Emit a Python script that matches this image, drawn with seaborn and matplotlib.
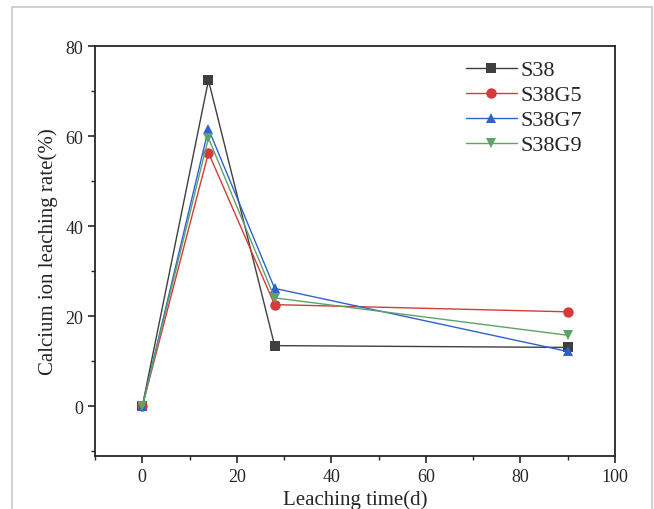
import numpy as np
import pandas as pd
import matplotlib
matplotlib.use('Agg')
import matplotlib.pyplot as plt
import seaborn as sns
from matplotlib.ticker import MultipleLocator
from matplotlib.patches import Rectangle

# ====================== DATA ======================
days = [0, 14, 28, 90]
samples = ['S38', 'S38G5', 'S38G7', 'S38G9']
s38 = [0, 72.4, 13.5, 13.1]
s38g5 = [0, 56.3, 22.6, 21.0]
s38g7 = [0, 61.6, 26.2, 12.2]
s38g9 = [0, 59.6, 24.1, 15.8]

df = pd.DataFrame({
    'time': days * 4,
    'rate': s38 + s38g5 + s38g7 + s38g9,
    'sample': [s for s in samples for _ in days],
})

colors = {'S38': '#3f3f3f', 'S38G5': '#d63a3a', 'S38G7': '#2f62d0', 'S38G9': '#5ea266'}
markers = {'S38': 's', 'S38G5': 'o', 'S38G7': '^', 'S38G9': 'v'}

# ====================== STYLE ======================
sns.set_style('ticks')
plt.rcParams['font.family'] = ['Liberation Serif', 'DejaVu Serif']
plt.rcParams['axes.linewidth'] = 1.3

fig = plt.figure(figsize=(6.54, 5.10), dpi=100)
ax = fig.add_axes([95 / 654, 1 - 457 / 510, 520 / 654, 410 / 510])

# light frame around the whole picture
fig.patches.append(Rectangle((12 / 654, -0.1), 640 / 654, 1.1 - 8 / 510,
                             transform=fig.transFigure, fill=False,
                             edgecolor='#c8c8c8', linewidth=1.2))

sns.lineplot(data=df, x='time', y='rate', hue='sample', style='sample',
             palette=colors, markers=markers, dashes=False, linewidth=1.0,
             markersize=7.5, markeredgewidth=0, ax=ax, legend=False)

ax.set_xlim(-10, 100)
ax.set_ylim(-11, 80)
ax.xaxis.set_major_locator(MultipleLocator(20))
ax.xaxis.set_minor_locator(MultipleLocator(10))
ax.yaxis.set_major_locator(MultipleLocator(20))
ax.yaxis.set_minor_locator(MultipleLocator(10))
ax.tick_params(which='major', direction='out', length=5, width=1.2, labelsize=13)
ax.tick_params(which='minor', direction='out', length=3, width=1.0)
for s in ['top', 'right']:
    ax.spines[s].set_visible(True)

ax.set_xlabel('Leaching time(d)', fontsize=15, labelpad=3)
ax.set_ylabel('Calcium ion leaching rate(%)', fontsize=15, labelpad=5)

# legend
handles = [plt.Line2D([], [], color=colors[s], marker=markers[s], markersize=7.5,
                      markeredgewidth=0, linewidth=1.0) for s in samples]
ax.legend(handles, samples, loc='upper right', frameon=False, fontsize=16,
          handlelength=2.3, handletextpad=0.15, labelspacing=0.2,
          bbox_to_anchor=(0.975, 1.015))

fig.savefig('out.png', dpi=100)
